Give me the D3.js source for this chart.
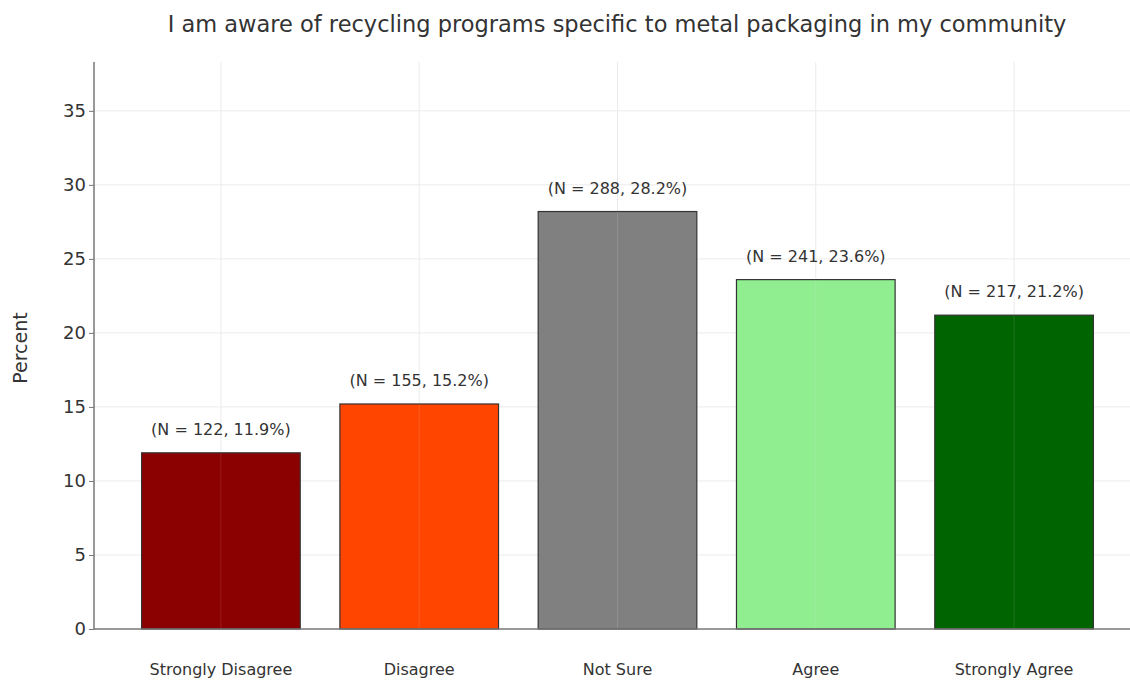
<!DOCTYPE html>
<html>
<head>
<meta charset="utf-8">
<script src="https://cdn.jsdelivr.net/npm/d3@7"></script>
<style>
  body { margin: 0; background: #fff; }
  svg { display: block; font-family: "DejaVu Sans", sans-serif; }
</style>
</head>
<body>
<svg id="chart" width="1130" height="682"></svg>
<script>
// Survey responses
const categories = ["Strongly Disagree", "Disagree", "Not Sure", "Agree", "Strongly Agree"];
const counts = [122, 155, 288, 241, 217];
const percents = [11.9, 15.2, 28.2, 23.6, 21.2];
const colors = ["#8b0000", "#ff4500", "#808080", "#90ee90", "#006400"];
const yTicks = [0, 5, 10, 15, 20, 25, 30, 35];

const svg = d3.select("#chart");
const margin = { left: 94, top: 62, bottom: 629, right: 1141 };

const x = d3.scaleLinear().domain([-0.64, 4.64]).range([margin.left, margin.right]);
const y = d3.scaleLinear().domain([0, 38.3]).range([margin.bottom, margin.top]);
const barW = x(0.8) - x(0);

// grid
svg.append("g").selectAll("line").data(yTicks.filter(d => d > 0)).join("line")
  .attr("x1", margin.left).attr("x2", 1130)
  .attr("y1", d => y(d)).attr("y2", d => y(d))
  .attr("stroke", "#ebebeb").attr("stroke-width", 1);
svg.append("g").selectAll("line").data(d3.range(categories.length)).join("line")
  .attr("x1", d => x(d)).attr("x2", d => x(d))
  .attr("y1", margin.top).attr("y2", margin.bottom)
  .attr("stroke", "#ebebeb").attr("stroke-width", 1);

// bars
svg.append("g").selectAll("rect").data(percents).join("rect")
  .attr("x", (d, i) => x(i) - barW / 2)
  .attr("width", barW)
  .attr("y", d => y(d))
  .attr("height", d => y(0) - y(d))
  .attr("fill", (d, i) => colors[i])
  .attr("stroke", "#333")
  .attr("stroke-width", 1.2);

// faint grid showing through the bars
svg.append("g").selectAll("line").data(d3.range(categories.length)).join("line")
  .attr("x1", d => x(d)).attr("x2", d => x(d))
  .attr("y1", (d, i) => y(percents[i])).attr("y2", margin.bottom)
  .attr("stroke", "#ffffff").attr("stroke-opacity", 0.12).attr("stroke-width", 1);

// value labels
svg.append("g").selectAll("text").data(percents).join("text")
  .attr("x", (d, i) => x(i))
  .attr("y", d => y(d) - 18)
  .attr("text-anchor", "middle")
  .attr("font-size", 16)
  .attr("fill", "#333")
  .text((d, i) => `(N = ${counts[i]}, ${d.toFixed(1)}%)`);

// y axis
const yAxis = d3.axisLeft(y).tickValues(yTicks).tickSize(5).tickPadding(3);
const gy = svg.append("g").attr("transform", `translate(${margin.left},0)`).call(yAxis);
gy.select(".domain").remove();
gy.selectAll(".tick line").attr("stroke", "#777");
gy.selectAll(".tick text").attr("font-size", 18).attr("fill", "#333")
  .attr("font-family", "DejaVu Sans, sans-serif");

// spines
svg.append("line").attr("x1", margin.left).attr("x2", margin.left)
  .attr("y1", margin.top).attr("y2", margin.bottom + 0.5)
  .attr("stroke", "#777").attr("stroke-width", 1.5);
svg.append("line").attr("x1", margin.left).attr("x2", 1130)
  .attr("y1", margin.bottom).attr("y2", margin.bottom)
  .attr("stroke", "#777").attr("stroke-width", 1.5);

// x labels
svg.append("g").selectAll("text").data(categories).join("text")
  .attr("x", (d, i) => x(i))
  .attr("y", 675)
  .attr("text-anchor", "middle")
  .attr("font-size", 16)
  .attr("fill", "#333")
  .text(d => d);

// y title
svg.append("text")
  .attr("transform", "translate(27,348) rotate(-90)")
  .attr("text-anchor", "middle")
  .attr("font-size", 19)
  .attr("fill", "#333")
  .text("Percent");

// title
svg.append("text")
  .attr("x", 617).attr("y", 32)
  .attr("text-anchor", "middle")
  .attr("font-size", 22.5)
  .attr("fill", "#333")
  .text("I am aware of recycling programs specific to metal packaging in my community");
</script>
</body>
</html>
